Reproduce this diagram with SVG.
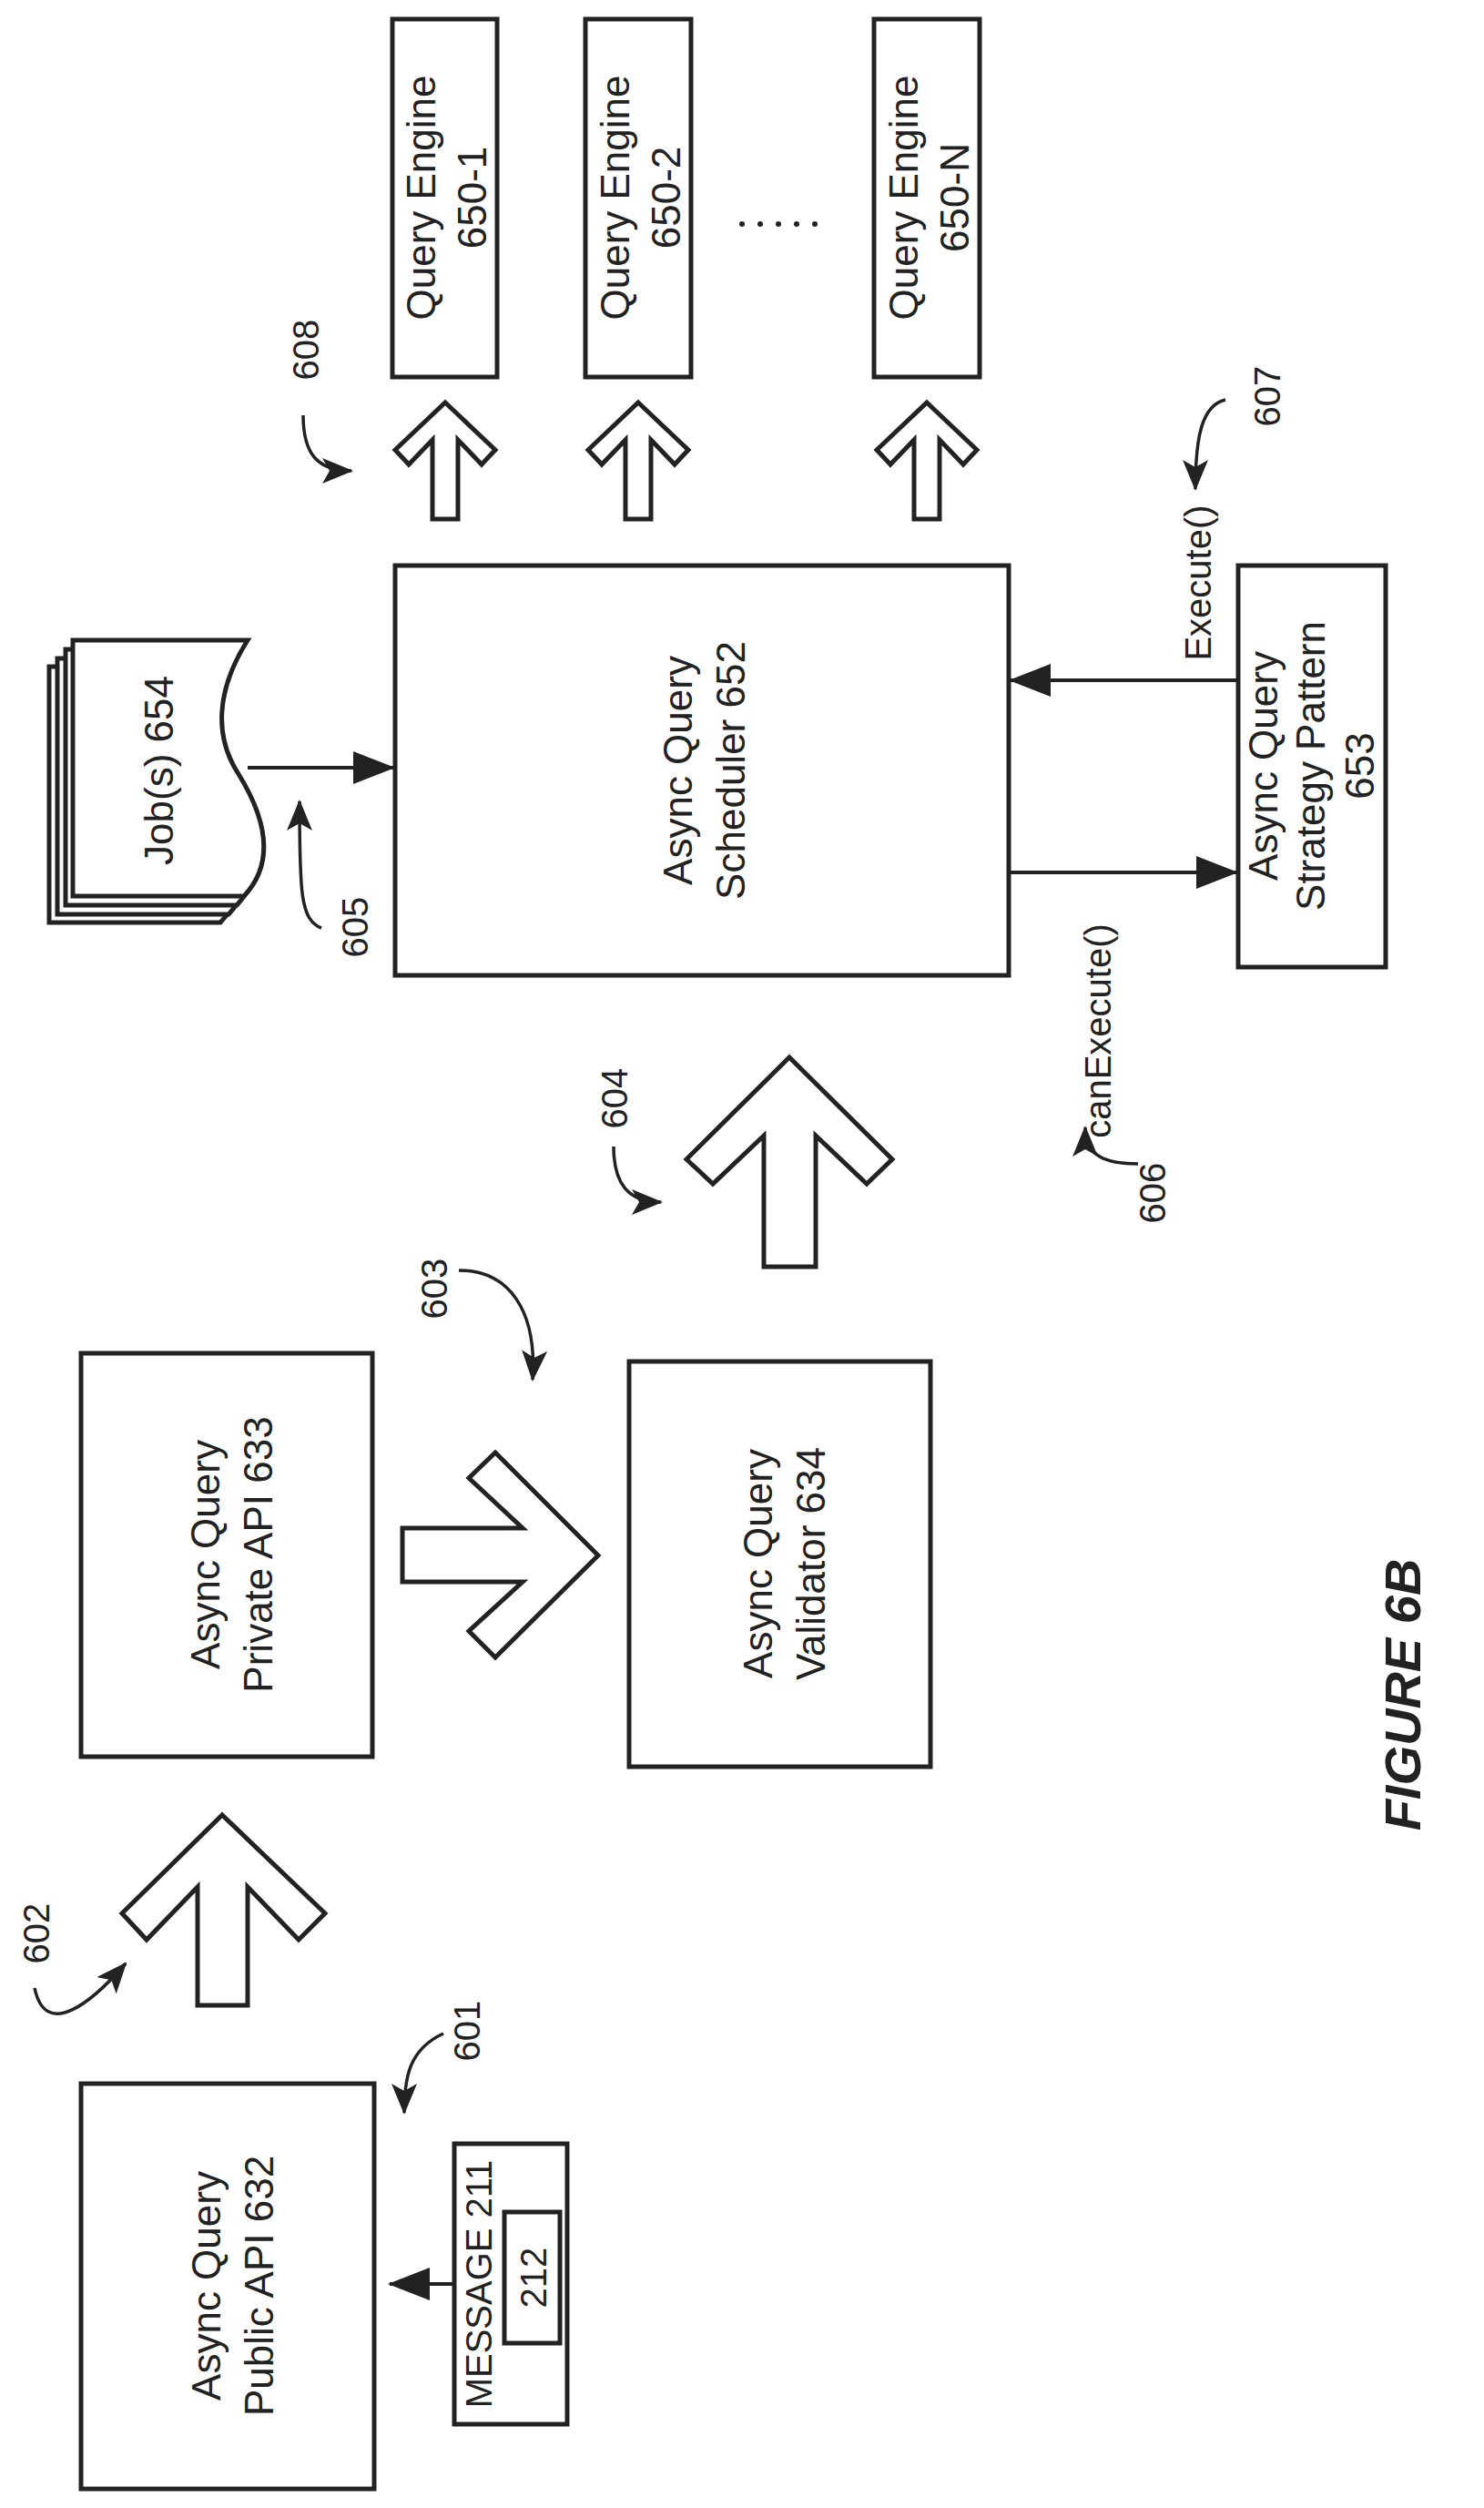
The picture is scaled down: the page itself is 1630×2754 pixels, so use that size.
<svg xmlns="http://www.w3.org/2000/svg" width="1630" height="2754" viewBox="0 0 1630 2754">
<style>
.b{fill:#fff;stroke:#222;stroke-width:5}
.t{font-family:"Liberation Sans",Arial,sans-serif;font-size:44px;fill:#222;text-anchor:middle}
.s{font-family:"Liberation Sans",Arial,sans-serif;font-size:40px;fill:#222;text-anchor:middle}
.l{fill:none;stroke:#222;stroke-width:4}
.c{fill:none;stroke:#222;stroke-width:3.5}
</style>
<defs>
<marker id="ah" markerUnits="userSpaceOnUse" markerWidth="46" markerHeight="36" refX="44" refY="18" orient="auto"><path d="M0,0 L46,18 L0,36 Z" fill="#222"/></marker>
<marker id="sh" markerUnits="userSpaceOnUse" markerWidth="34" markerHeight="28" refX="32" refY="14" orient="auto"><path d="M0,0 L34,14 L0,28 L8,14 Z" fill="#222"/></marker>
</defs>
<g id="public-api"><rect class="b" x="89" y="2288" width="322" height="445"/>
<text class="t" transform="translate(250,2510) rotate(-90)"><tspan x="0" y="-8">Async Query</tspan><tspan x="0" y="50">Public API 632</tspan></text></g>
<g id="message"><rect class="b" x="499" y="2354" width="124" height="308"/><rect class="b" x="554" y="2429" width="61" height="144"/>
<text class="s" transform="translate(540,2508) rotate(-90)">MESSAGE 211</text>
<text class="s" transform="translate(600,2501) rotate(-90)">212</text></g>
<g id="private-api"><rect class="b" x="89" y="1486" width="320" height="443"/>
<text class="t" transform="translate(249,1707) rotate(-90)"><tspan x="0" y="-8">Async Query</tspan><tspan x="0" y="50">Private API 633</tspan></text></g>
<g id="validator"><rect class="b" x="691" y="1495" width="331" height="445"/>
<text class="t" transform="translate(856,1717) rotate(-90)"><tspan x="0" y="-8">Async Query</tspan><tspan x="0" y="50">Validator 634</tspan></text></g>
<g id="scheduler"><rect class="b" x="434" y="621" width="674" height="450"/>
<text class="t" transform="translate(768,846) rotate(-90)"><tspan x="0" y="-8">Async Query</tspan><tspan x="0" y="50">Scheduler 652</tspan></text></g>
<g id="strategy"><rect class="b" x="1360" y="621" width="162" height="441"/>
<text class="t" transform="translate(1441,841) rotate(-90)"><tspan x="0" y="-38">Async Query</tspan><tspan x="0" y="14">Strategy Pattern</tspan><tspan x="0" y="68">653</tspan></text></g>
<g id="jobs">
<path class="b" transform="translate(-26,29)" d="M80,703 H272 C236,760 236,810 262,850 C296,905 300,950 268,984 H80 Z"/>
<path class="b" transform="translate(-17,20)" d="M80,703 H272 C236,760 236,810 262,850 C296,905 300,950 268,984 H80 Z"/>
<path class="b" transform="translate(-8,10)" d="M80,703 H272 C236,760 236,810 262,850 C296,905 300,950 268,984 H80 Z"/>
<path class="b" d="M80,703 H272 C236,760 236,810 262,850 C296,905 300,950 268,984 H80 Z"/>
<text class="t" transform="translate(190,846) rotate(-90)">Job(s) 654</text></g>
<g id="engine-1"><rect class="b" x="431" y="21" width="115" height="393"/>
<text class="t" transform="translate(488,217) rotate(-90)"><tspan x="0" y="-10">Query Engine</tspan><tspan x="0" y="46">650-1</tspan></text></g>
<g id="engine-2"><rect class="b" x="643" y="21" width="116" height="393"/>
<text class="t" transform="translate(701,217) rotate(-90)"><tspan x="0" y="-10">Query Engine</tspan><tspan x="0" y="46">650-2</tspan></text></g>
<g id="engine-n"><rect class="b" x="960" y="21" width="116" height="393"/>
<text class="t" transform="translate(1018,217) rotate(-90)"><tspan x="0" y="-10">Query Engine</tspan><tspan x="0" y="46">650-N</tspan></text></g>
<g id="dots" fill="#222"><circle cx="815" cy="246" r="3"/><circle cx="835" cy="246" r="3"/><circle cx="855" cy="246" r="3"/><circle cx="875" cy="246" r="3"/><circle cx="895" cy="246" r="3"/></g>
<g id="connectors">
<polygon class="b" points="244,1993 357,2101 328,2130 272,2072 272,2202 217,2202 217,2072 161,2130 134,2101"/>
<polygon class="b" points="657,1708 544,1595 515,1623 574,1678 442,1678 442,1737 574,1737 515,1791 544,1820"/>
<polygon class="b" points="867,1161 980,1273 952,1300 896,1247 896,1391 839,1391 839,1247 783,1300 754,1273"/>
<polygon class="b" points="489,442 544,494 529,510 503,483 503,570 475,570 475,483 449,510 434,494"/>
<polygon class="b" points="701,442 756,494 741,510 715,483 715,570 687,570 687,483 661,510 646,494"/>
<polygon class="b" points="1018,442 1073,494 1058,510 1032,483 1032,570 1004,570 1004,483 978,510 963,494"/>
<line class="l" x1="499" y1="2508" x2="428" y2="2508" marker-end="url(#ah)"/>
<line class="l" x1="272" y1="843" x2="432" y2="843" marker-end="url(#ah)"/>
<line class="l" x1="1360" y1="747" x2="1110" y2="747" marker-end="url(#ah)"/>
<line class="l" x1="1108" y1="958" x2="1358" y2="958" marker-end="url(#ah)"/>
<path class="c" d="M487,2233 C450,2250 444,2280 444,2320" marker-end="url(#sh)"/>
<path class="c" d="M38,2183 C50,2240 100,2200 138,2156" marker-end="url(#sh)"/>
<path class="c" d="M504,1395 C560,1395 590,1440 585,1515" marker-end="url(#sh)"/>
<path class="c" d="M674,1259 C674,1300 690,1320 726,1320" marker-end="url(#sh)"/>
<path class="c" d="M333,456 C333,500 350,517 386,517" marker-end="url(#sh)"/>
<path class="c" d="M353,1019 C330,1010 329,980 329,880" marker-end="url(#sh)"/>
<path class="c" d="M1346,439 C1320,445 1313,480 1313,537" marker-end="url(#sh)"/>
<path class="c" d="M1250,1278 C1215,1278 1192,1270 1192,1238" marker-end="url(#sh)"/>
</g>
<g id="labels" class="s">
<text class="s" transform="translate(54,2123) rotate(-90)">602</text>
<text class="s" transform="translate(527,2230) rotate(-90)">601</text>
<text class="s" transform="translate(491,1415) rotate(-90)">603</text>
<text class="s" transform="translate(689,1206) rotate(-90)">604</text>
<text class="s" transform="translate(404,1018) rotate(-90)">605</text>
<text class="s" transform="translate(350,384) rotate(-90)">608</text>
<text class="s" transform="translate(1406,435) rotate(-90)">607</text>
<text class="s" transform="translate(1280,1310) rotate(-90)">606</text>
<text class="s" transform="translate(1330,640) rotate(-90)">Execute()</text>
<text class="s" transform="translate(1220,1132) rotate(-90)">canExecute()</text>
<text transform="translate(1560,1861) rotate(-90)" style="font-family:'Liberation Sans',Arial,sans-serif;font-size:56px;font-weight:bold;font-style:italic;fill:#222;text-anchor:middle">FIGURE 6B</text>
</g>
</svg>
